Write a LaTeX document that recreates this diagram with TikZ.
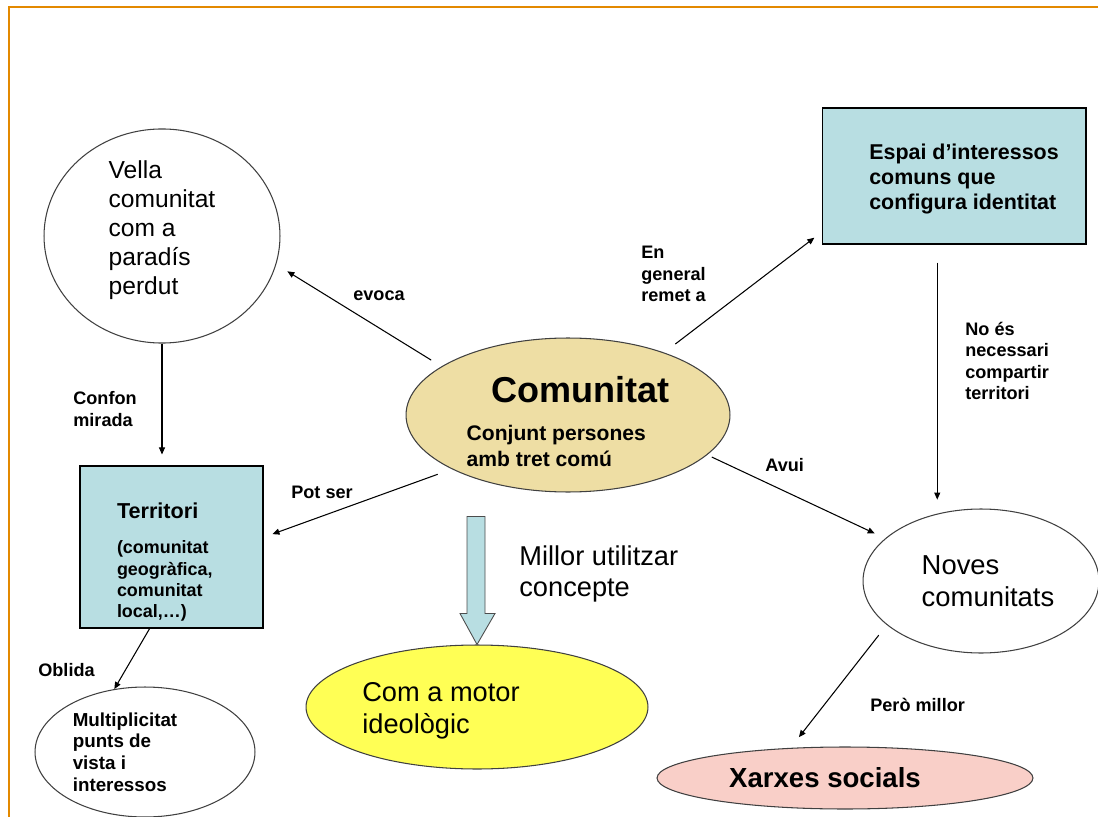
\documentclass[tikz,border=0pt]{standalone}
\usepackage{fontspec}
\setmainfont{Liberation Sans}
\usetikzlibrary{arrows.meta,shapes.geometric}

\definecolor{slideorange}{RGB}{227,137,0}
\definecolor{boxblue}{RGB}{184,222,226}
\definecolor{tanfill}{RGB}{238,222,164}
\definecolor{rosefill}{RGB}{249,207,200}
\definecolor{motoryellow}{RGB}{255,255,85}

\begin{document}
\begin{tikzpicture}[x=0.02cm,y=-0.02cm,
  conn/.style={-{Triangle[length=4pt,width=3.4pt]}, line width=0.6pt},
  lbl/.style={anchor=west, align=left, inner sep=0pt, font=\fontsize{10.3}{12.2}\selectfont\bfseries},
  oval/.style={ellipse, draw=black!75, line width=0.6pt, inner sep=0pt, align=left},
  bluebox/.style={rectangle, draw=black, line width=0.6pt, fill=boxblue, inner sep=0pt, align=left},
  bigarrow/.style={fill=boxblue, draw=black!70, line width=0.5pt, line join=miter}]
\useasboundingbox (0,0) rectangle (1098,817);
\draw[slideorange, line width=1.4pt] (9,817) -- (9,7) -- (1098,7);

\node[oval, minimum width=4.72cm, minimum height=4.08cm, font=\fontsize{14}{16.5}\selectfont] (vella) at (162,236) {Vella\\comunitat\\com a\\paradís\\perdut\rule[-10pt]{0pt}{10pt}};
\node[oval, fill=tanfill, minimum width=6.48cm, minimum height=3.08cm, font=\fontsize{12}{14.7}\selectfont\bfseries] (com) at (568,415) {\rule{0pt}{22pt}\hspace*{14pt}{\fontsize{20.5}{24}\selectfont Comunitat}\\[7pt]Conjunt persones\\amb tret comú};
\node[bluebox, minimum width=5.28cm, minimum height=2.72cm, font=\fontsize{12.2}{14.2}\selectfont\bfseries] (espai) at (954,176) {\rule{0pt}{12pt}Espai d’interessos\hspace*{-0.4cm}\\comuns que\\configura identitat\hspace*{-0.4cm}};
\node[bluebox, minimum width=3.66cm, minimum height=3.24cm, font=\fontsize{10.2}{12}\selectfont\bfseries] (terr) at (171.5,547) {\rule{0pt}{26pt}{\fontsize{12.3}{14}\selectfont Territori}\\[8pt](comunitat\\\makebox[2.18cm][l]{geogràfica,}\\comunitat\\local,…)};
\node[oval, minimum width=4.72cm, minimum height=2.88cm, font=\fontsize{15.6}{18}\selectfont] (noves) at (981,581) {Noves\\comunitats\hspace*{-0.28cm}};
\node[oval, fill=motoryellow, minimum width=6.84cm, minimum height=2.48cm, font=\fontsize{15.5}{18}\selectfont] (motor) at (477,707) {\rule{0pt}{15.5pt}Com a motor\hspace*{1.44cm}\\ideològic};
\node[oval, fill=rosefill, minimum width=7.52cm, minimum height=1.24cm, font=\fontsize{15.7}{19}\selectfont\bfseries] (xarxes) at (845,778) {Xarxes socials\hspace*{0.8cm}};
\node[oval, minimum width=4.4cm, minimum height=2.6cm, font=\fontsize{10.7}{12.4}\selectfont\bfseries] (multi) at (145,752) {Multiplicitat\hspace*{0.8cm}\\punts de\\vista i\\interessos};

\node[lbl] (evoca) at (353,296) {evoca};
\node[lbl] (remet) at (641,274) {En\\general\\remet a};
\node[lbl] (noes) at (965,361) {No és\\necessari\\compartir\\territori};
\node[lbl] (avui) at (765,465) {Avui};
\node[lbl] (potser) at (291,492) {Pot ser};
\node[lbl] (confon) at (73,409) {Confon\\mirada};
\node[lbl] (oblida) at (38,670) {Oblida};
\node[lbl] (pero) at (870,705) {Però millor};
\node[lbl, font=\fontsize{15.5}{18}\selectfont] (millor) at (519,574) {Millor utilitzar\\concepte};

\draw[conn, shorten <=0.24cm, shorten >=0.26cm] (com.159) -- (vella.346);
\draw[conn, shorten <=0.28cm, shorten >=0.18cm] (com.33) -- (espai.203);
\draw[conn, shorten <=0.36cm, shorten >=0.28cm] (noves.123 |- espai.south) -- (noves.123);
\draw[conn, shorten <=0.1cm, shorten >=0.23cm] (com.344) -- (noves.156);
\draw[conn, shorten <=0.3cm, shorten >=0.19cm] (com.205) -- (terr.6);
\draw[conn, shorten >=0.22cm] (vella) -- (vella |- terr.north);
\draw[conn] (terr.255) -- (multi.116);
\draw[conn, shorten <=0.26cm, shorten >=0.27cm] (noves.205) -- (xarxes.151);

\draw[bigarrow] (motor.north) -- ++(-17,-31) -- ++(7,0) -- ++(0,-97) -- ++(18,0) -- ++(0,97) -- ++(10,0) -- cycle;
\end{tikzpicture}
\end{document}
